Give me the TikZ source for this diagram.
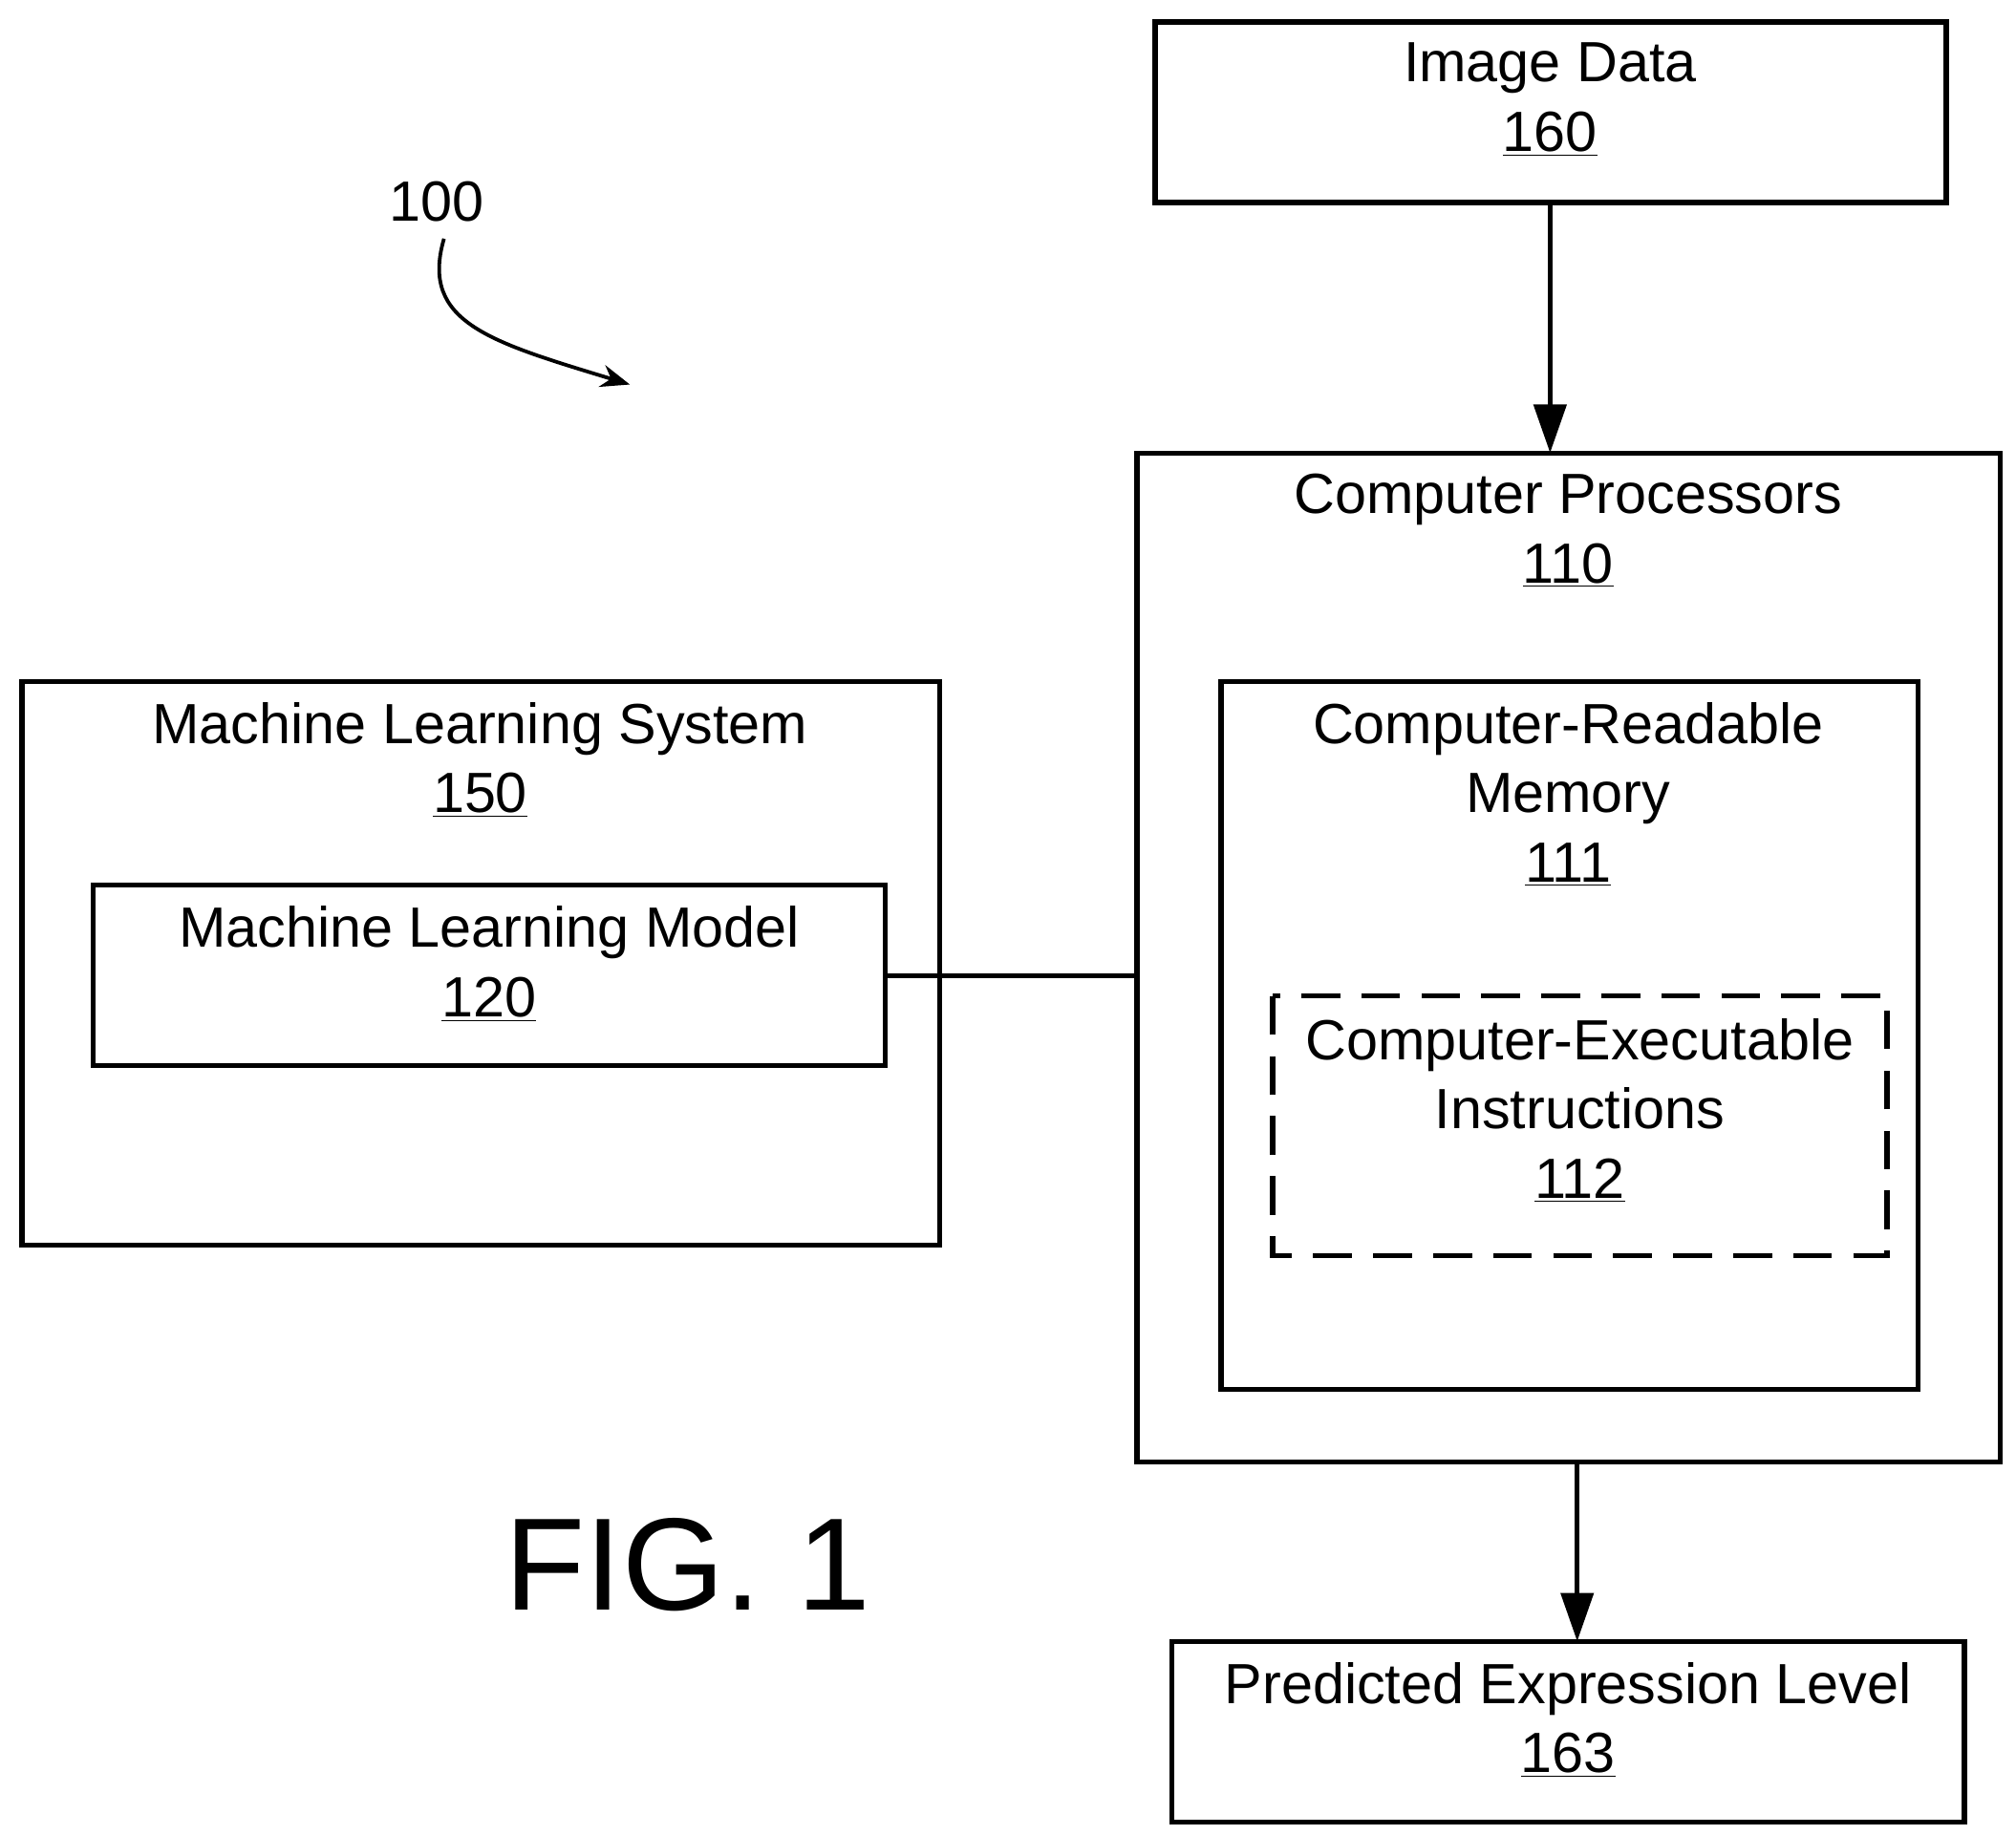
\documentclass[tikz,border=0pt]{standalone}
\usepackage{fontspec}
\setmainfont{Liberation Sans}
\usetikzlibrary{arrows.meta}
\begin{document}
\begin{tikzpicture}[x=0.02cm,y=-0.02cm,
  box/.style={draw,line width=2.2pt},
  lbl/.style={font=\fontsize{25}{30.5}\selectfont,align=center,anchor=north,inner sep=0pt},
  arr/.style={line width=2.2pt,-{Triangle[length=0.75cm,width=0.5cm]}}]
\useasboundingbox (0,0) rectangle (1562,1422);
\draw[box] (895,17) rectangle (1508,157); \coordinate (img) at (1201,157);
\node[lbl] (t160) at (1201,33) {Image Data\\\underline{160}};
\draw[box] (881,351) rectangle (1550,1133);
\node[lbl] (t110) at (1215,367) {Computer Processors\\\underline{110}};
\draw[box] (946,528) rectangle (1486,1077);
\node[lbl] (t111) at (1215,544) {Computer-Readable\\Memory\\\underline{111}};
\draw[box,dash pattern=on 0.6cm off 0.33cm] (986,772) rectangle (1462,973);
\node[lbl] (t112) at (1224,789) {Computer-Executable\\Instructions\\\underline{112}};
\draw[box] (17,528) rectangle (728,965);
\node[lbl] (t150) at (372,544) {Machine Learning System\\\underline{150}};
\draw[box] (72,686) rectangle (686,826);
\node[lbl] (t120) at (379,702) {Machine Learning Model\\\underline{120}};
\draw[box] (908,1272) rectangle (1522,1412);
\node[lbl] (t163) at (1215,1288) {Predicted Expression Level\\\underline{163}};
\coordinate (mr) at (686,756); \coordinate (pl) at (881,756);
\draw[line width=2.2pt] (mr) -- (pl);
\coordinate (pt) at (1201,351); \draw[arr] (img) -- (pt);
\coordinate (pb) at (1222,1133); \coordinate (pr) at (1222,1272);
\draw[arr] (pb) -- (pr);
\node[font=\fontsize{25}{30}\selectfont] (n100) at (338,156) {100};
\coordinate (c1) at (344,185); \coordinate (c2) at (488,298);
\draw[line width=1.6pt,-{Stealth[length=0.45cm,width=0.35cm]}] (c1) .. controls (325,250) and (380,265) .. (c2);
\node[font=\fontsize{58}{60}\selectfont] (fig) at (533,1213) {FIG. 1};
\end{tikzpicture}
\end{document}
